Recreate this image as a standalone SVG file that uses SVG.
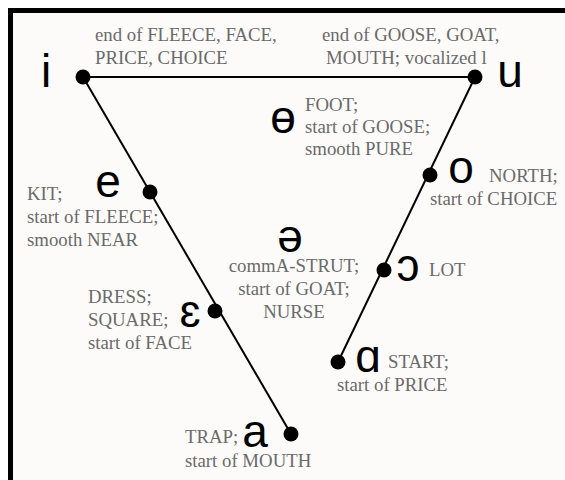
<svg xmlns="http://www.w3.org/2000/svg" width="565" height="480" viewBox="0 0 565 480">
<style>
.lbl{font-family:"Liberation Serif","Times New Roman",serif;font-size:18.8px;fill:#6a6a6a}
.v{font-family:"Liberation Sans",Arial,sans-serif;font-size:46px;fill:#000;text-anchor:middle}
.dot{fill:#000}
.ln{stroke:#000;stroke-width:2;fill:none}
</style>
<rect x="0" y="0" width="565" height="480" fill="#ffffff"/>
<rect x="8" y="8" width="557" height="472" fill="#000"/>
<rect x="13" y="13" width="552" height="467" fill="#fcfbf9"/>
<g id="connectors">
<line class="ln" x1="83" y1="77" x2="475" y2="77"/>
<line class="ln" x1="83" y1="77" x2="291" y2="434"/>
<line class="ln" x1="475" y1="77" x2="338" y2="362"/>
</g>
<g id="node-i"><circle class="dot" cx="83" cy="77" r="7.5"/><text class="v" x="46" y="87">i</text>
<text class="lbl" x="95" y="41">end of FLEECE, FACE,</text><text class="lbl" x="95" y="64">PRICE, CHOICE</text></g>
<g id="node-u"><circle class="dot" cx="475" cy="77" r="7.5"/><text class="v" x="510" y="87">u</text>
<text class="lbl" x="322" y="41">end of GOOSE, GOAT,</text><text class="lbl" x="326" y="64">MOUTH; vocalized l</text></g>
<g id="node-barred-o"><text class="v" x="283" y="133">ɵ</text>
<text class="lbl" x="305" y="111">FOOT;</text><text class="lbl" x="305" y="133">start of GOOSE;</text><text class="lbl" x="305" y="155">smooth PURE</text></g>
<g id="node-e"><circle class="dot" cx="150" cy="192" r="7.5"/><text class="v" x="108" y="197">e</text>
<text class="lbl" x="27" y="200">KIT;</text><text class="lbl" x="27" y="223">start of FLEECE;</text><text class="lbl" x="27" y="246">smooth NEAR</text></g>
<g id="node-o"><circle class="dot" cx="430" cy="175" r="7.5"/><text class="v" x="461" y="183">o</text>
<text class="lbl" x="489" y="182">NORTH;</text><text class="lbl" x="430" y="205">start of CHOICE</text></g>
<g id="node-schwa"><text class="v" x="290" y="252">ə</text>
<text class="lbl" x="294" y="272" text-anchor="middle">commA-STRUT;</text><text class="lbl" x="294" y="295" text-anchor="middle">start of GOAT;</text><text class="lbl" x="294" y="318" text-anchor="middle">NURSE</text></g>
<g id="node-open-o"><circle class="dot" cx="384" cy="270" r="7.5"/><text class="v" x="408" y="281">ɔ</text>
<text class="lbl" x="429" y="276">LOT</text></g>
<g id="node-epsilon"><circle class="dot" cx="215" cy="311" r="7.5"/><text class="v" x="190" y="327">ɛ</text>
<text class="lbl" x="88" y="303">DRESS;</text><text class="lbl" x="88" y="326">SQUARE;</text><text class="lbl" x="88" y="349">start of FACE</text></g>
<g id="node-script-a"><circle class="dot" cx="338" cy="362" r="7.5"/><text class="v" x="368" y="372">ɑ</text>
<text class="lbl" x="388" y="368">START;</text><text class="lbl" x="337" y="391">start of PRICE</text></g>
<g id="node-a"><circle class="dot" cx="291" cy="434" r="7.5"/><text class="v" x="255" y="447">a</text>
<text class="lbl" x="185" y="443">TRAP;</text><text class="lbl" x="185" y="467">start of MOUTH</text></g>
</svg>
